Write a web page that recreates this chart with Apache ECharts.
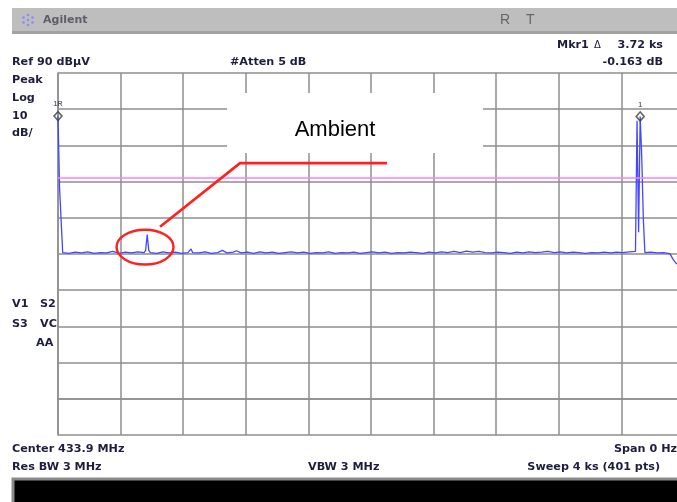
<!DOCTYPE html>
<html>
<head>
<meta charset="utf-8">
<script src="https://cdn.jsdelivr.net/npm/echarts@6/dist/echarts.min.js"></script>
<style>
  html, body { margin: 0; padding: 0; background: #ffffff; }
  #chart { width: 677px; height: 502px; }
</style>
</head>
<body>
<div id="chart"></div>
<script>
// Zero-span measurement at 433.9 MHz, 4 ks sweep, 10 dB/div from Ref 90 dBµV.
const sweepTimes = [
  0, 10, 20, 30, 70, 110, 150, 190, 230, 270, 310, 350, 390, 430, 470, 510, 550,
  560, 570, 580, 590, 630, 670, 710, 750, 790, 830, 850, 860, 900, 940, 980, 1020,
  1050, 1080, 1120, 1140, 1170, 1210, 1250, 1290, 1330, 1370, 1410, 1450, 1490,
  1530, 1570, 1610, 1650, 1690, 1730, 1770, 1810, 1850, 1890, 1930, 1970, 2010,
  2050, 2090, 2130, 2170, 2210, 2250, 2290, 2330, 2370, 2410, 2450, 2490, 2530,
  2570, 2610, 2650, 2690, 2730, 2770, 2810, 2850, 2890, 2930, 2970, 3010, 3050,
  3090, 3130, 3170, 3210, 3250, 3290, 3330, 3370, 3410, 3450, 3490, 3530, 3570,
  3610, 3650, 3690, 3700, 3710, 3720, 3730, 3740, 3750, 3790, 3830, 3870, 3910,
  3930, 3950, 3970, 4000
];
const traceLevels = [
  78.1, 58.2, 58.0, 40.4, 40.2, 40.5, 40.3, 40.6, 40.2, 40.4, 40.3, 40.7, 40.2, 40.5, 40.3, 40.6, 40.4,
  41.0, 45.4, 41.0, 40.4, 40.2, 40.6, 40.3, 40.5, 40.2, 40.4, 41.4, 40.4, 40.3, 40.6, 40.2, 40.4,
  41.0, 40.3, 40.5, 40.9, 40.3, 40.5, 40.2, 40.6, 40.3, 40.5, 40.2, 40.4, 40.6,
  40.3, 40.5, 40.2, 40.4, 40.3, 40.6, 40.2, 40.4, 40.3, 40.5, 40.2, 40.4, 40.6,
  40.3, 40.5, 40.2, 40.4, 40.3, 40.5, 40.4, 40.2, 40.5, 40.3, 40.6, 40.4, 40.7,
  40.4, 40.8, 40.5, 40.7, 40.4, 40.3, 40.5, 40.4, 40.2, 40.5, 40.3, 40.6, 40.4,
  40.5, 40.7, 40.4, 40.6, 40.3, 40.5, 40.4, 40.2, 40.4, 40.3, 40.5, 40.3, 40.5,
  40.4, 40.6, 40.7, 76.8, 46.0, 78.0, 66.8, 49.8, 40.4, 40.5, 40.3, 40.4, 40.1,
  38.5, 37.4, 37.0, 36.8
];

const refLevel = 90;        // dBµV, top graticule line
const dbPerDiv = 10;
const divisions = 10;
const sweepTime = 4000;     // s
const displayLine = 61;     // dBµV
const markerTimes = [0, 3720];
const markerLabels = ['1R', '1'];

// Annotation anchors in (time s, level dBµV)
const ambientCenter = [556, 41.9];
const ambientRadius = [182, 4.8];
const leaderPath = [[652, 47.5], [1163, 65.1], [2102, 65.1]];
const noteBox = [[1080, 84.5], [2716, 67.9]];
const noteText = 'Ambient';
const noteAnchor = [1770, 74.3];

const infoFont = 'bold 11.2px "DejaVu Sans", Verdana, sans-serif';
const infoColor = '#1e1e3c';

const chart = echarts.init(document.getElementById('chart'), null, { renderer: 'canvas' });

const traceData = sweepTimes.map((t, i) => [t, traceLevels[i]]);
const markerData = markerTimes.map((t, i) => ({
  value: [t, traceLevels[sweepTimes.indexOf(t)]],
  label: { formatter: markerLabels[i] }
}));

const gridLine = { show: true, lineStyle: { color: '#8e8e8e', width: 1.5 } };

chart.setOption({
  animation: false,
  backgroundColor: '#ffffff',
  // graticule runs past the right edge of the screen capture
  grid: { left: 58, top: 73, width: 626, height: 362, containLabel: false, outerBoundsMode: 'none' },
  xAxis: {
    type: 'value', min: 0, max: sweepTime, interval: sweepTime / divisions,
    axisLabel: { show: false }, axisTick: { show: false },
    axisLine: { show: true, lineStyle: { color: '#8e8e8e', width: 1.5 } },
    splitLine: gridLine
  },
  yAxis: {
    type: 'value', min: refLevel - dbPerDiv * divisions, max: refLevel, interval: dbPerDiv,
    axisLabel: { show: false }, axisTick: { show: false },
    axisLine: { show: true, lineStyle: { color: '#8e8e8e', width: 1.5 } },
    splitLine: gridLine
  },
  series: [
    {
      type: 'line',
      data: traceData,
      symbol: 'none',
      lineStyle: { color: '#4646ff', width: 1.3 },
      z: 3,
      markLine: {
        silent: true,
        symbol: 'none',
        label: { show: false },
        lineStyle: { color: '#ff7cff', width: 1.5, type: 'solid' },
        data: [{ yAxis: displayLine }]
      }
    },
    {
      type: 'scatter',
      data: markerData,
      symbol: 'diamond',
      symbolSize: [8, 9],
      itemStyle: { color: 'rgba(255,255,255,0)', borderColor: '#404040', borderWidth: 1.6 },
      label: {
        show: true, position: 'top', distance: 3,
        fontSize: 7, fontWeight: 'bold', color: '#404050'
      },
      z: 4
    }
  ]
});

const px = (p) => chart.convertToPixel({ gridIndex: 0 }, p);

const c = px(ambientCenter);
const edge = px([ambientCenter[0] + ambientRadius[0], ambientCenter[1] + ambientRadius[1]]);
const boxA = px(noteBox[0]);
const boxB = px(noteBox[1]);
const textPos = px(noteAnchor);

const txt = (text, x, y, align, extra) => Object.assign({
  type: 'text', x, y,
  style: { text, font: infoFont, fill: infoColor, align: align || 'left', verticalAlign: 'middle' },
  z: 100
}, extra || {});

// Agilent spark logo dots
const logoDots = [[0, -5], [0, 5], [-4.5, -2.5], [4.5, -2.5], [-4.5, 2.5], [4.5, 2.5], [0, 0]].map(([dx, dy]) => ({
  type: 'circle', shape: { cx: 28 + dx, cy: 20 + dy, r: 1.3 },
  style: { fill: '#8a8aff' }, z: 101
}));

chart.setOption({
  graphic: [
    // title bar
    { type: 'rect', shape: { x: 12, y: 8, width: 665, height: 24 }, style: { fill: '#bebebe' }, z: 99 },
    { type: 'rect', shape: { x: 12, y: 31, width: 665, height: 3 }, style: { fill: '#a2a2a2' }, z: 99 },
    ...logoDots,
    { type: 'text', x: 43, y: 20, style: { text: 'Agilent', font: 'bold 11px "DejaVu Sans", Verdana, sans-serif', fill: '#5e5e6a', verticalAlign: 'middle' }, z: 100 },
    { type: 'text', x: 500, y: 20, style: { text: 'R', font: '14px "Liberation Sans", Arial, sans-serif', fill: '#666666', verticalAlign: 'middle' }, z: 100 },
    { type: 'text', x: 526, y: 20, style: { text: 'T', font: '14px "Liberation Sans", Arial, sans-serif', fill: '#666666', verticalAlign: 'middle' }, z: 100 },

    // measurement settings
    txt('Mkr1', 557, 45),
    txt('\u0394', 594, 45, 'left', { style: { text: '\u0394', font: '10px "DejaVu Sans", Verdana, sans-serif', fill: infoColor, verticalAlign: 'middle' } }),
    txt('3.72 ks', 663, 45, 'right'),
    txt('-0.163 dB', 663, 62, 'right'),
    txt('Ref 90 dB\u00b5V', 12, 62),
    txt('#Atten 5 dB', 230, 62),
    txt('Peak', 12, 80),
    txt('Log', 12, 98),
    txt('10', 12, 116),
    txt('dB/', 12, 133),
    txt('V1', 12, 304),
    txt('S2', 40, 304),
    txt('S3', 12, 324),
    txt('VC', 40, 324),
    txt('AA', 36, 343),
    txt('Center 433.9 MHz', 12, 449),
    txt('Span 0 Hz', 677, 449, 'right'),
    txt('Res BW 3 MHz', 12, 467),
    txt('VBW 3 MHz', 308, 467),
    txt('Sweep 4 ks (401 pts)', 660, 467, 'right'),

    // softkey strip
    { type: 'rect', shape: { x: 13, y: 479, width: 680, height: 30 }, style: { fill: '#000000', stroke: '#8a8a8a', lineWidth: 3 }, z: 100 },

    // annotation
    {
      type: 'rect',
      shape: { x: boxA[0], y: boxA[1], width: boxB[0] - boxA[0], height: boxB[1] - boxA[1] },
      style: { fill: '#ffffff' }, z: 100
    },
    {
      type: 'text', x: textPos[0], y: textPos[1],
      style: { text: noteText, font: '22px "Liberation Sans", Arial, sans-serif', fill: '#000000', align: 'center', verticalAlign: 'middle' },
      z: 101
    },
    {
      type: 'polyline',
      shape: { points: leaderPath.map(px) },
      style: { stroke: '#ff2020', lineWidth: 2.6, fill: null },
      z: 102
    },
    {
      type: 'ellipse',
      shape: { cx: c[0], cy: c[1], rx: Math.abs(edge[0] - c[0]), ry: Math.abs(edge[1] - c[1]) },
      style: { stroke: '#ff2020', lineWidth: 2.4, fill: null },
      z: 102
    }
  ]
});
</script>
</body>
</html>
